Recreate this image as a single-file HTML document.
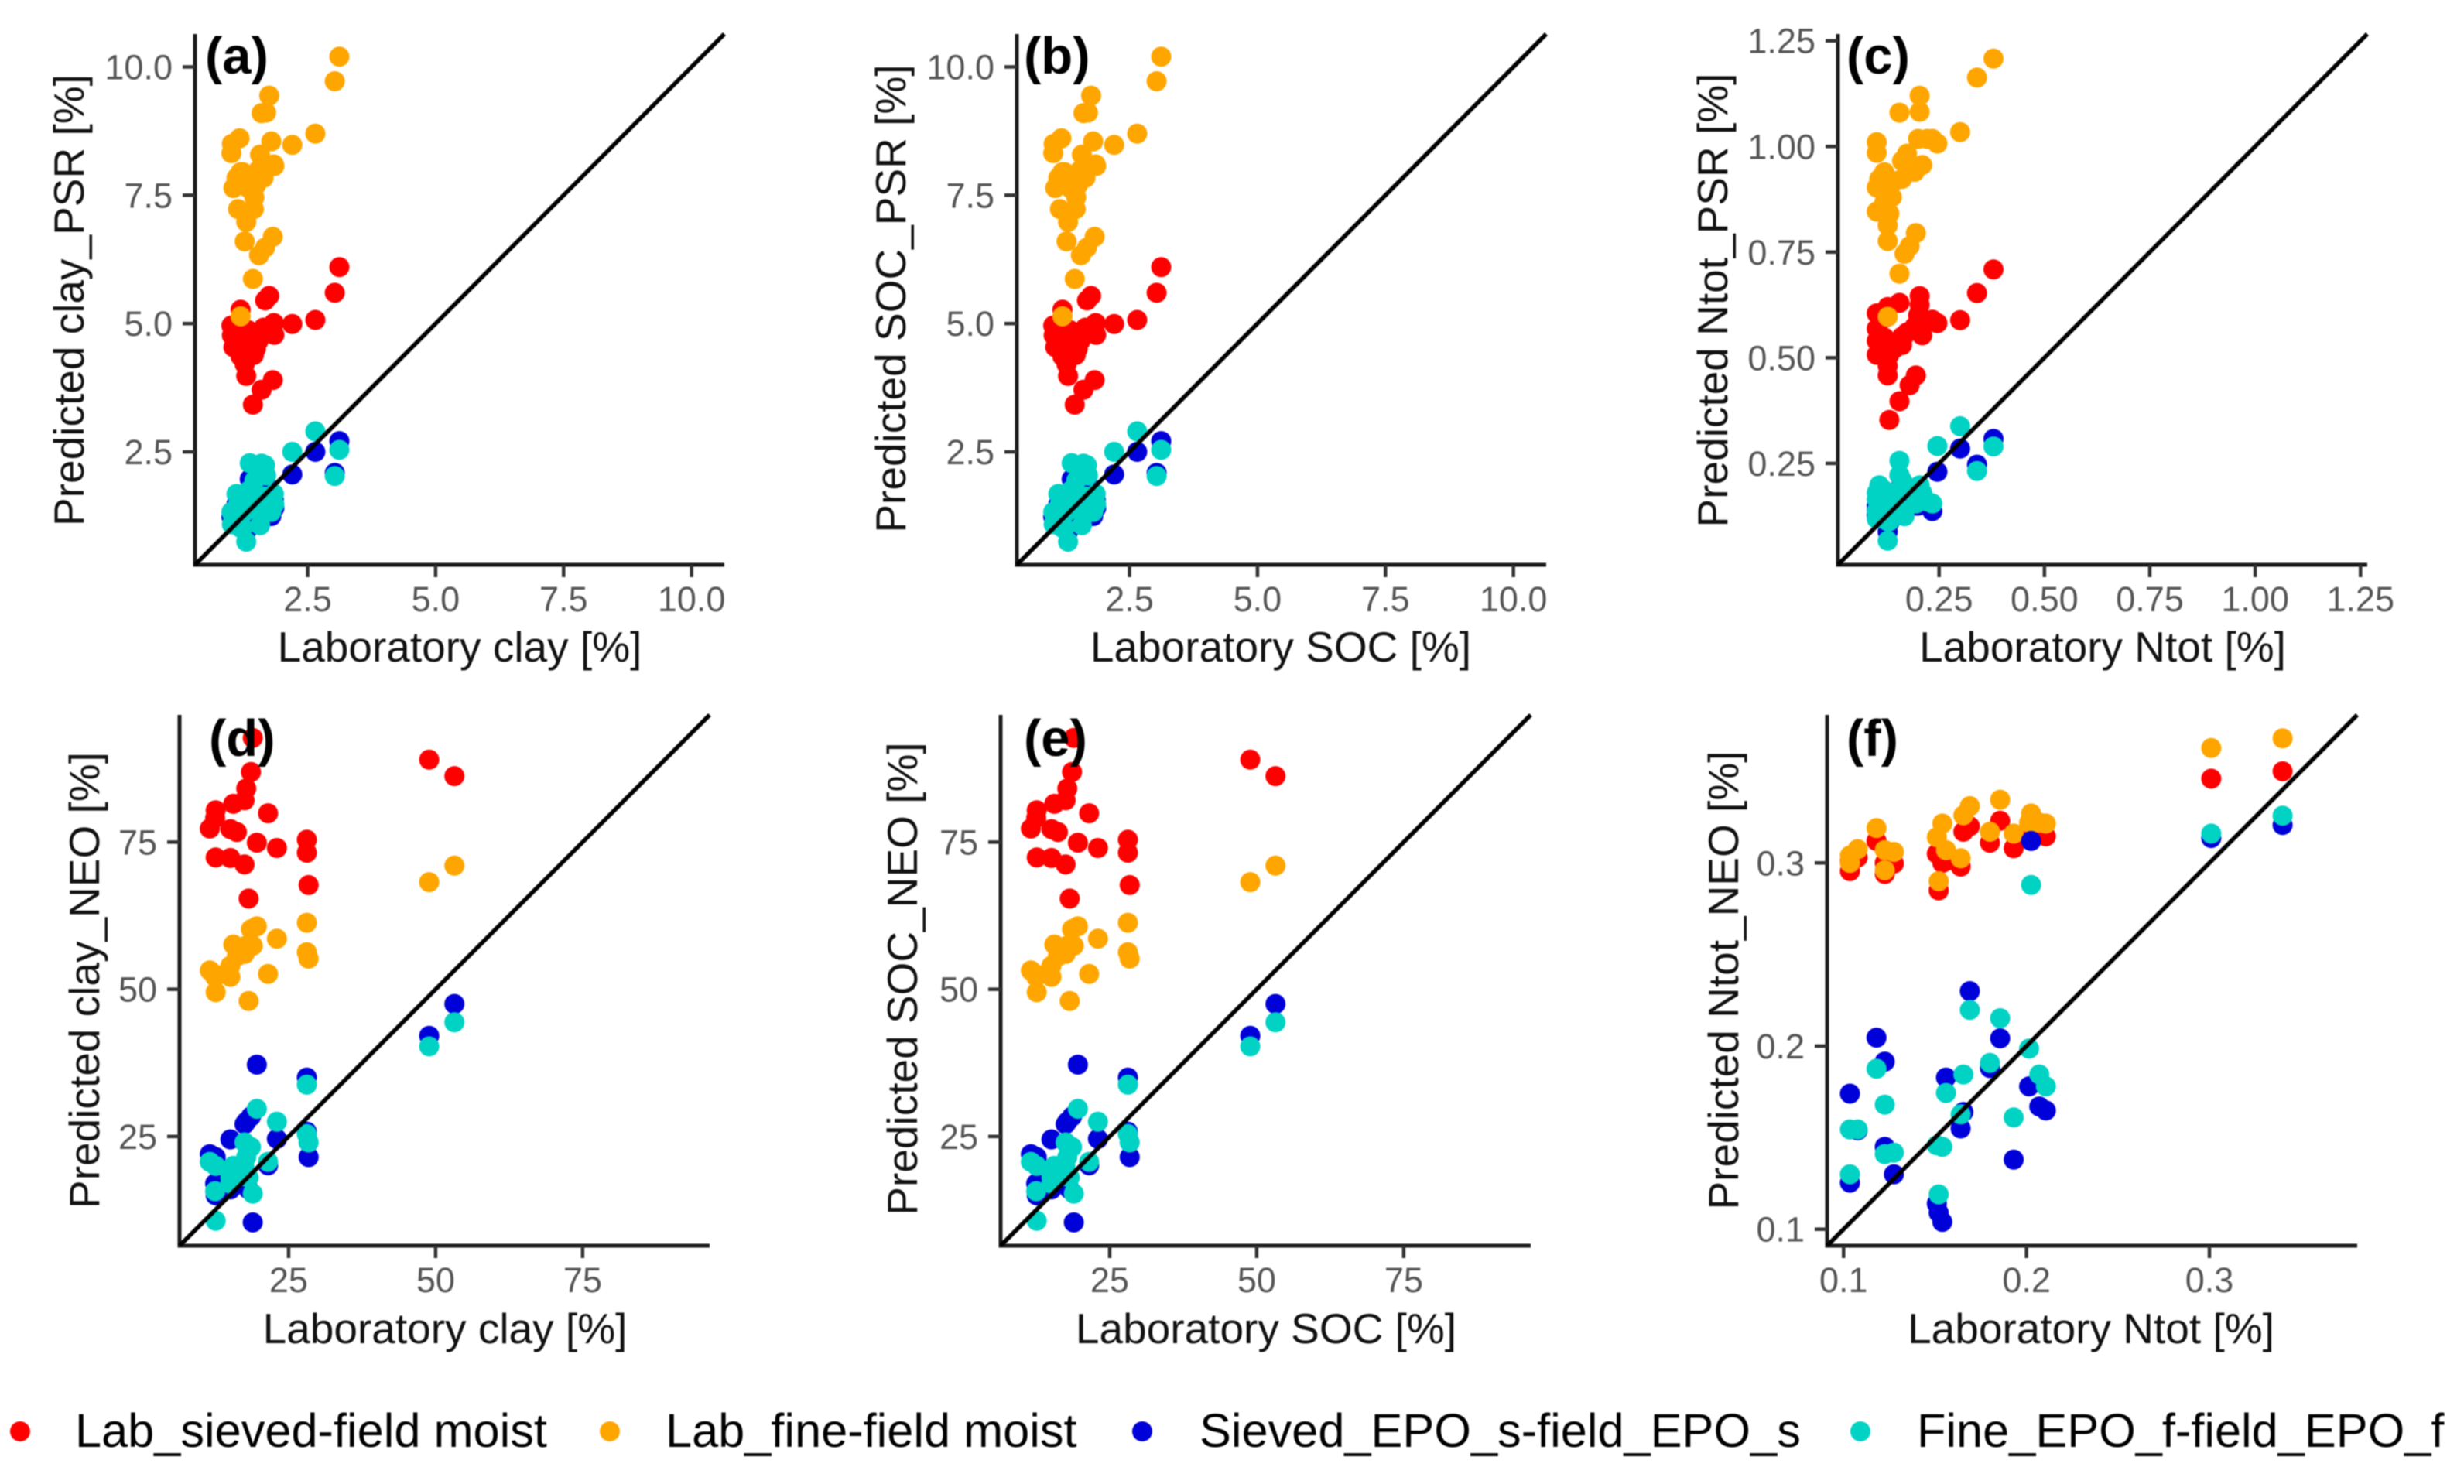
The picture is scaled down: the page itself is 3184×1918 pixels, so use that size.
<!DOCTYPE html>
<html lang="en">
<head>
<meta charset="utf-8">
<title>Predicted versus laboratory soil properties</title>
<style>
html,body{margin:0;padding:0;background:#fff;}
#figure{display:block;width:3184px;height:1918px;filter:blur(0.9px);font-family:"Liberation Sans",sans-serif;}
.axis-title{font-size:55px;fill:#111;}
.panel-letter{font-size:67px;font-weight:bold;fill:#000;}
.legend-text{font-size:61.3px;fill:#000;}
</style>
</head>
<body>
<svg id="figure" xmlns="http://www.w3.org/2000/svg" width="3184" height="1918" viewBox="0 0 3184 1918">
  <rect x="0" y="0" width="3184" height="1918" fill="#fff"/>

  <g>
    <g id="marks-a"></g>
    <text class="axis-title" x="594" y="855" text-anchor="middle">Laboratory clay [%]</text>
    <text class="axis-title" transform="translate(108,388) rotate(-90)" text-anchor="middle">Predicted clay_PSR [%]</text>
    <text class="panel-letter" x="265" y="95">(a)</text>
  </g>

  <g>
    <g id="marks-b"></g>
    <text class="axis-title" x="1655" y="855" text-anchor="middle">Laboratory SOC [%]</text>
    <text class="axis-title" transform="translate(1170,386) rotate(-90)" text-anchor="middle">Predicted SOC_PSR [%]</text>
    <text class="panel-letter" x="1323" y="95">(b)</text>
  </g>

  <g>
    <g id="marks-c"></g>
    <text class="axis-title" x="2717" y="855" text-anchor="middle">Laboratory Ntot [%]</text>
    <text class="axis-title" transform="translate(2232,388) rotate(-90)" text-anchor="middle">Predicted Ntot_PSR [%]</text>
    <text class="panel-letter" x="2386" y="95">(c)</text>
  </g>

  <g>
    <g id="marks-d"></g>
    <text class="axis-title" x="575" y="1736" text-anchor="middle">Laboratory clay [%]</text>
    <text class="axis-title" transform="translate(128,1267) rotate(-90)" text-anchor="middle">Predicted clay_NEO [%]</text>
    <text class="panel-letter" x="270" y="977">(d)</text>
  </g>

  <g>
    <g id="marks-e"></g>
    <text class="axis-title" x="1636" y="1736" text-anchor="middle">Laboratory SOC [%]</text>
    <text class="axis-title" transform="translate(1185,1265) rotate(-90)" text-anchor="middle">Predicted SOC_NEO [%]</text>
    <text class="panel-letter" x="1323" y="977">(e)</text>
  </g>

  <g>
    <g id="marks-f"></g>
    <text class="axis-title" x="2702" y="1736" text-anchor="middle">Laboratory Ntot [%]</text>
    <text class="axis-title" transform="translate(2246,1267) rotate(-90)" text-anchor="middle">Predicted Ntot_NEO [%]</text>
    <text class="panel-letter" x="2386" y="977">(f)</text>
  </g>

  <g>
    <circle cx="26" cy="1850" r="13" fill="#ff0000"/>
    <text class="legend-text" x="97" y="1870">Lab_sieved-field moist</text>
    <circle cx="788" cy="1850" r="13" fill="#ffa500"/>
    <text class="legend-text" x="860" y="1870">Lab_fine-field moist</text>
    <circle cx="1476" cy="1850" r="13" fill="#0000d8"/>
    <text class="legend-text" x="1550" y="1870">Sieved_EPO_s-field_EPO_s</text>
    <circle cx="2404" cy="1850" r="13" fill="#00d2c4"/>
    <text class="legend-text" x="2477" y="1870">Fine_EPO_f-field_EPO_f</text>
  </g>
</svg>

<script>
// ---- PSR clay / SOC (panels a, b) ----
const psrLabClay = [1.01,1.02,1.05,1.11,1.14,1.17,1.19,1.19,1.23,1.27,1.30,1.34,1.37,1.43,1.45,1.46,1.49,1.54,1.55,1.57,1.60,1.64,1.67,1.69,1.75,1.79,1.82,1.84,1.85,2.20,2.65,3.03,3.12];
const psrClayLabSieved = [4.96,4.77,4.54,4.74,4.63,4.87,5.27,4.36,4.66,4.21,3.98,4.87,4.81,3.42,4.39,4.66,4.51,4.66,4.78,4.81,3.71,4.92,5.45,4.81,5.54,4.89,3.90,5.01,4.78,4.99,5.07,5.60,6.10];
const psrClayLabFine = [8.32,8.50,7.64,7.84,7.23,8.61,5.14,7.95,7.95,6.60,6.98,7.64,7.76,5.87,7.23,7.46,7.69,7.99,6.33,8.29,9.10,7.84,6.48,9.11,9.44,8.55,6.69,8.10,8.07,8.48,8.70,9.72,10.20];
const psrClayEpoSieved = [1.24,1.21,1.28,1.48,1.41,1.51,1.33,1.15,1.10,1.25,0.95,1.63,1.97,1.48,1.41,1.83,1.33,1.33,1.48,1.18,2.09,1.48,1.94,1.78,1.30,1.25,1.48,1.56,1.41,2.06,2.50,2.09,2.71];
const psrClayEpoFine = [1.33,1.09,1.15,1.68,1.48,1.63,1.39,1.02,1.02,1.33,0.75,1.74,2.28,1.56,1.63,1.94,1.38,1.41,1.63,1.07,2.27,1.63,2.24,2.04,1.38,1.33,1.54,1.68,1.48,2.50,2.90,2.03,2.54];

// ---- PSR Ntot (panel c) ----
const psrLabNtot = [0.102,0.102,0.102,0.102,0.108,0.12,0.12,0.12,0.128,0.128,0.128,0.132,0.132,0.138,0.144,0.156,0.156,0.162,0.162,0.168,0.174,0.18,0.195,0.192,0.20,0.204,0.204,0.21,0.222,0.234,0.246,0.30,0.34,0.379];
const psrNtotLabSieved = [0.605,0.569,0.507,0.54,0.55,0.548,0.594,0.52,0.481,0.458,0.62,0.507,0.353,0.533,0.522,0.63,0.397,0.55,0.53,0.553,0.56,0.435,0.458,0.574,0.60,0.646,0.625,0.553,0.584,0.59,0.582,0.589,0.653,0.709];
const psrNtotLabFine = [1.01,0.985,0.903,0.846,0.923,0.939,0.892,0.867,0.813,0.776,0.597,0.903,0.841,0.88,0.918,0.699,1.08,0.966,0.923,0.746,0.983,0.764,0.795,0.94,1.018,1.12,1.082,0.956,1.018,1.018,1.007,1.034,1.163,1.208];
const psrNtotEpoSieved = [0.14,0.13,0.125,0.15,0.17,0.16,0.14,0.13,0.12,0.15,0.088,0.13,0.11,0.17,0.152,0.222,0.19,0.18,0.152,0.13,0.17,0.16,0.15,0.16,0.15,0.175,0.16,0.17,0.15,0.137,0.23,0.285,0.247,0.308];
const psrNtotEpoFine = [0.165,0.137,0.119,0.18,0.198,0.186,0.15,0.13,0.113,0.16,0.067,0.14,0.113,0.18,0.162,0.256,0.223,0.21,0.14,0.125,0.19,0.192,0.155,0.175,0.162,0.198,0.17,0.18,0.16,0.155,0.291,0.338,0.232,0.29];

// ---- NEO clay / SOC (panels d, e) ----
const neoLabClay = [11.6,12.5,12.6,12.6,15.1,15.1,15.6,16.2,17.5,17.5,17.8,18.2,18.6,18.9,19.6,21.5,23,28.1,28.1,28.4,48.9,53.2];
const neoClayLabSieved = [77.3,79.1,80.4,72.4,77.2,72.3,81.5,76.7,82.1,71.2,84.1,65.4,86.9,92.7,74.9,79.9,74,75.4,73.2,67.7,89,86.2];
const neoClayLabFine = [53.2,52.1,49.5,52.5,52.1,54,57.6,55.6,57.1,56,57.4,48,60.2,57.4,60.7,52.6,58.6,61.3,56.3,55.2,68.2,71];
const neoClayEpoSieved = [22,17,21.5,15,24.5,16,18,17,27.1,17,27.5,16,28.4,10.4,37.2,20.1,24.6,35,25.8,21.5,42.1,47.5];
const neoClayEpoFine = [20.7,15.7,20,10.7,18,17,20,19,24,19.7,21.5,18,23.2,15.3,29.7,20.7,27.5,33.8,25.4,24,40.3,44.4];

// ---- NEO Ntot (panel f) ----
const neoLabNtot = [0.1035,0.1035,0.1077,0.118,0.1225,0.1225,0.1275,0.151,0.152,0.154,0.156,0.164,0.1655,0.169,0.18,0.1856,0.193,0.2025,0.2014,0.207,0.2106,0.301,0.34];
const neoNtotLabSieved = [0.2955,0.301,0.303,0.312,0.294,0.30,0.2997,0.305,0.285,0.30,0.301,0.298,0.317,0.32,0.311,0.323,0.308,0.32,0.315,0.318,0.3145,0.346,0.35];
const neoNtotLabFine = [0.30,0.304,0.3075,0.319,0.296,0.307,0.306,0.314,0.29,0.3215,0.307,0.3025,0.326,0.331,0.317,0.3345,0.316,0.327,0.322,0.322,0.3215,0.3627,0.368];
const neoNtotEpoSieved = [0.174,0.1254,0.154,0.2046,0.1915,0.145,0.13,0.114,0.109,0.104,0.1828,0.155,0.164,0.23,0.188,0.2042,0.138,0.312,0.178,0.167,0.1648,0.3136,0.3207];
const neoNtotEpoFine = [0.1545,0.13,0.1545,0.1876,0.168,0.141,0.1418,0.1458,0.119,0.145,0.1744,0.1627,0.1845,0.2197,0.1908,0.2152,0.161,0.288,0.1986,0.1845,0.178,0.316,0.3258];

// ---- Tick labels ----
const ticksPsr = ["2.5","5.0","7.5","10.0"];
const ticksPsrNtot = ["0.25","0.50","0.75","1.00","1.25"];
const ticksNeo = ["25","50","75"];
const ticksNeoNtot = ["0.1","0.2","0.3"];

// ---- Axis domains (data units) ----
const domainPsr = [0.3, 10.64];
const domainPsrNtot = [0.01, 1.266];
const domainNeo = [6.45, 96.6];
const domainNeoNtot = [0.091, 0.3808];

const seriesColors = ["#ff0000", "#ffa500", "#0000d8", "#00d2c4"];
const seriesNames = ["lab-sieved", "lab-fine", "sieved-epo", "fine-epo"];
const SVGNS = "http://www.w3.org/2000/svg";

function makeScale(domain, r0, r1) {
  return function (v) {
    return r0 + (v - domain[0]) * (r1 - r0) / (domain[1] - domain[0]);
  };
}

function addLine(parent, x1, y1, x2, y2, stroke, width) {
  const el = document.createElementNS(SVGNS, "line");
  el.setAttribute("x1", x1);
  el.setAttribute("y1", y1);
  el.setAttribute("x2", x2);
  el.setAttribute("y2", y2);
  el.setAttribute("stroke", stroke);
  el.setAttribute("stroke-width", width);
  parent.appendChild(el);
  return el;
}

function addTickText(parent, x, y, anchor, label) {
  const el = document.createElementNS(SVGNS, "text");
  el.setAttribute("x", x);
  el.setAttribute("y", y);
  el.setAttribute("text-anchor", anchor);
  el.setAttribute("font-size", "45");
  el.setAttribute("fill", "#555555");
  el.textContent = label;
  parent.appendChild(el);
  return el;
}

function drawPanel(id, x0, x1, y0, y1, domain, ticks, labX, seriesList) {
  const parent = document.getElementById("marks-" + id);
  const sx = makeScale(domain, x0, x1);
  const sy = makeScale(domain, y0, y1);

  seriesList.forEach(function (values, s) {
    values.forEach(function (v, i) {
      const dot = document.createElementNS(SVGNS, "circle");
      dot.setAttribute("cx", sx(labX[i]).toFixed(1));
      dot.setAttribute("cy", sy(v).toFixed(1));
      dot.setAttribute("r", "13");
      dot.setAttribute("fill", seriesColors[s]);
      
      
      parent.appendChild(dot);
    });
  });

  const yAxis = addLine(parent, x0, y0 + 2.5, x0, y1, "#1a1a1a", 5);
  
  
  const xAxis = addLine(parent, x0 - 2.5, y0, x1, y0, "#1a1a1a", 5);
  
  

  ticks.forEach(function (label) {
    const v = parseFloat(label);
    const xTick = addLine(parent, sx(v), y0, sx(v), y0 + 16, "#333333", 4.5);
    
    
    const xText = addTickText(parent, sx(v), y0 + 60, "middle", label);
    
    
    const yTick = addLine(parent, x0 - 16, sy(v), x0, sy(v), "#333333", 4.5);
    
    
    const yText = addTickText(parent, x0 - 29, sy(v) + 16, "end", label);
    
    
  });

  const diag = addLine(parent, sx(domain[0]), sy(domain[0]), sx(domain[1]), sy(domain[1]), "#000000", 5.5);
  
  
}

const psrClaySeries = [psrClayLabSieved, psrClayLabFine, psrClayEpoSieved, psrClayEpoFine];
const psrNtotSeries = [psrNtotLabSieved, psrNtotLabFine, psrNtotEpoSieved, psrNtotEpoFine];
const neoClaySeries = [neoClayLabSieved, neoClayLabFine, neoClayEpoSieved, neoClayEpoFine];
const neoNtotSeries = [neoNtotLabSieved, neoNtotLabFine, neoNtotEpoSieved, neoNtotEpoFine];

drawPanel("a", 252, 936, 730, 44, domainPsr, ticksPsr, psrLabClay, psrClaySeries);
drawPanel("b", 1314, 1998, 730, 44, domainPsr, ticksPsr, psrLabClay, psrClaySeries);
drawPanel("c", 2375, 3059, 730, 44, domainPsrNtot, ticksPsrNtot, psrLabNtot, psrNtotSeries);
drawPanel("d", 232, 917, 1610, 924, domainNeo, ticksNeo, neoLabClay, neoClaySeries);
drawPanel("e", 1293, 1978, 1610, 924, domainNeo, ticksNeo, neoLabClay, neoClaySeries);
drawPanel("f", 2361, 3046, 1610, 924, domainNeoNtot, ticksNeoNtot, neoLabNtot, neoNtotSeries);
</script>
</body>
</html>
